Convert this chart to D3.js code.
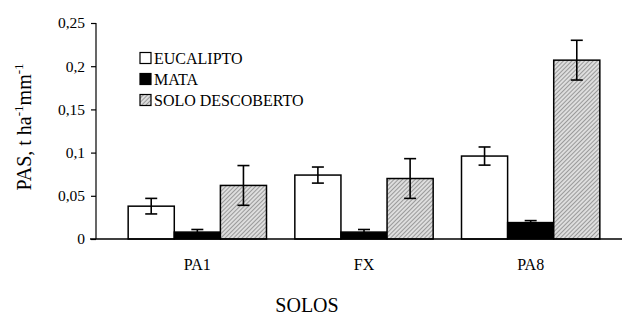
<!DOCTYPE html>
<html><head><meta charset="utf-8">
<script src="https://cdn.jsdelivr.net/npm/d3@7"></script>
<style>body{margin:0;background:#fff}svg{display:block}</style>
</head><body><svg id="c" width="623" height="316"></svg>
<script>
const categories = ["PA1", "FX", "PA8"];
const seriesNames = ["EUCALIPTO", "MATA", "SOLO DESCOBERTO"];
const eucalipto = [0.038, 0.074, 0.096];
const mata = [0.008, 0.008, 0.019];
const soloDescoberto = [0.062, 0.070, 0.207];
const errEucalipto = [0.009, 0.0093, 0.0105];
const errMata = [0.003, 0.003, 0.0023];
const errSolo = [0.023, 0.023, 0.023];
const yTicks = [0, 0.05, 0.1, 0.15, 0.2, 0.25];
const yTickLabels = ["0", "0,05", "0,1", "0,15", "0,2", "0,25"];

const FONT = "'Liberation Serif', 'Times New Roman', Times, serif";
const svg = d3.select("#c").attr("font-family", FONT);
const defs = svg.append("defs");
const pat = defs.append("pattern").attr("id","hatch").attr("patternUnits","userSpaceOnUse")
  .attr("width",3).attr("height",3).attr("patternTransform","rotate(45)");
pat.append("rect").attr("width",3).attr("height",3).attr("fill","#dedede");
pat.append("rect").attr("width",1).attr("height",3).attr("fill","#9a9a9a");

const series = [
  {name: seriesNames[0], values: eucalipto, err: errEucalipto, fill: "#fff"},
  {name: seriesNames[1], values: mata, err: errMata, fill: "#000"},
  {name: seriesNames[2], values: soloDescoberto, err: errSolo, fill: "url(#hatch)"}
];

const y = d3.scaleLinear().domain([0, 0.25]).range([239, 23]);
const x0 = d3.scaleBand().domain(categories).range([114, 614]).paddingInner(0.17).paddingOuter(0.085);
const x1 = d3.scaleBand().domain(seriesNames).range([0, x0.bandwidth()]);

// axes
const yAxis = d3.axisLeft(y).tickValues(yTicks).tickFormat((d,i)=>yTickLabels[i]).tickSize(5).tickPadding(6);
const gy = svg.append("g").attr("transform","translate(96,0)").call(yAxis).attr("font-family", FONT);
gy.select(".domain").attr("stroke","#000").attr("stroke-width",1.2).attr("d","M0,23V239");
gy.selectAll(".tick line").attr("stroke","#000").attr("stroke-width",1.2);
gy.selectAll(".tick text").attr("font-size",15.5).attr("font-family",FONT).attr("fill","#000");

// bars
categories.forEach((c, ci) => {
  series.forEach(s => {
    const bx = x0(c) + x1(s.name);
    svg.append("rect").attr("x", bx).attr("y", y(s.values[ci]))
      .attr("width", x1.bandwidth()).attr("height", y(0) - y(s.values[ci]))
      .attr("fill", s.fill).attr("stroke","#000").attr("stroke-width",1.5);
  });
});
// x axis line
svg.append("line").attr("x1",90).attr("x2",622).attr("y1",y(0)).attr("y2",y(0)).attr("stroke","#000").attr("stroke-width",1.5);

// error bars
categories.forEach((c, ci) => {
  series.forEach(s => {
    const cx = x0(c) + x1(s.name) + x1.bandwidth()/2;
    const v = s.values[ci], e = s.err[ci];
    const g = svg.append("g").attr("stroke","#000").attr("stroke-width",1.6);
    g.append("line").attr("x1",cx).attr("x2",cx).attr("y1",y(v+e)).attr("y2",y(v-e));
    g.append("line").attr("x1",cx-6).attr("x2",cx+6).attr("y1",y(v+e)).attr("y2",y(v+e));
    g.append("line").attr("x1",cx-6).attr("x2",cx+6).attr("y1",y(v-e)).attr("y2",y(v-e));
  });
});

// category labels
categories.forEach(c => {
  svg.append("text").attr("x", x0(c)+x0.bandwidth()/2).attr("y", 270).attr("font-family",FONT)
    .attr("text-anchor","middle").attr("font-size",16).text(c);
});

// axis titles
svg.append("text").attr("x",307).attr("y",312).attr("text-anchor","middle").attr("font-family",FONT).attr("font-size",20).text("SOLOS");
const yt = svg.append("text").attr("transform","translate(31,127) rotate(-90)").attr("text-anchor","middle").attr("font-family",FONT).attr("font-size",20);
yt.append("tspan").text("PAS, t ha");
yt.append("tspan").attr("dy",-8).attr("font-size",13).text("-1");
yt.append("tspan").attr("dy",8).text("mm");
yt.append("tspan").attr("dy",-8).attr("font-size",13).text("-1");

// legend
series.forEach((s, i) => {
  const ly = 58 + i*21;
  svg.append("rect").attr("x",140).attr("y",ly-5.5).attr("width",11).attr("height",11)
    .attr("fill",s.fill).attr("stroke","#000").attr("stroke-width",1.2);
  svg.append("text").attr("x",154).attr("y",ly+5.5).attr("font-family",FONT).attr("font-size",16).text(s.name);
});
</script></body></html>
